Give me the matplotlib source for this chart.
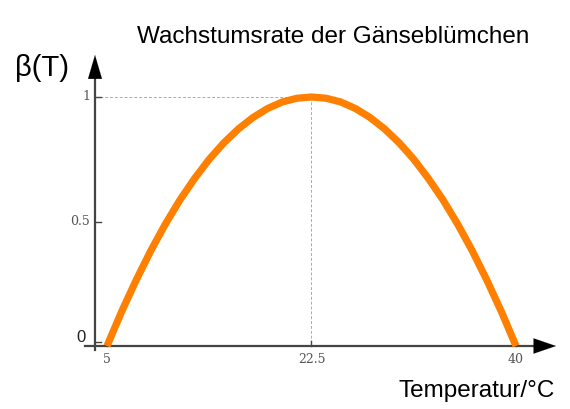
import matplotlib
matplotlib.use("Agg")
import matplotlib.pyplot as plt

# Wachstumsrate der Gaensebluemchen
temp = [5, 6.25, 7.5, 8.75, 10, 11.25, 12.5, 13.75, 15, 16.25, 17.5, 18.75, 20, 21.25,
        22.5, 23.75, 25, 26.25, 27.5, 28.75, 30, 31.25, 32.5, 33.75, 35, 36.25, 37.5, 38.75, 40]
beta = [0.0, 0.138, 0.265, 0.383, 0.490, 0.587, 0.673, 0.750, 0.816, 0.872, 0.918, 0.954,
        0.980, 0.995, 1.0, 0.995, 0.980, 0.954, 0.918, 0.872, 0.816, 0.750, 0.673, 0.587,
        0.490, 0.383, 0.265, 0.138, 0.0]
xticks = [5, 22.5, 40]
xlabels = ["5", "22.5", "40"]
yticks = [0.5, 1]
ylabels = ["0.5", "1"]
peak_t, peak_b = 22.5, 1.0

W, H = 570, 409
fig = plt.figure(figsize=(W / 100, H / 100), dpi=100)

# pixel -> data: x=5 bei 107px, x=40 bei 516px; y=0 bei 346px, y=1 bei 97px
sx = (516 - 107) / 35.0
sy = (346 - 97) / 1.0
L, R, T, B = 60, 570, 40, 370
ax = fig.add_axes([L / W, (H - B) / H, (R - L) / W, (B - T) / H])
ax.set_xlim(5 - (107 - L) / sx, 5 + (R - 107) / sx)
ax.set_ylim(-(B - 346) / sy, (346 - T) / sy)
ax.axis("off")

def px2x(p):
    return 5 + (p - 107) / sx

def px2y(p):
    return (346 - p) / sy

ax_col = "#444444"
yx = px2x(95)

# Hilfslinien
ax.plot([yx, peak_t], [peak_b, peak_b], ls=(0, (3, 2)), color="#aaaaaa", lw=0.7, zorder=1)
ax.plot([peak_t, peak_t], [peak_b, 0], ls=(0, (3, 2)), color="#aaaaaa", lw=0.7, zorder=1)

# Achsen mit Pfeilen
ax.plot([px2x(85), px2x(536)], [0, 0], color=ax_col, lw=1.6, zorder=2)
ax.plot([yx, yx], [px2y(350), px2y(78)], color=ax_col, lw=1.6, zorder=2)
ax.annotate("", xy=(px2x(556), 0), xytext=(px2x(534), 0),
            arrowprops=dict(arrowstyle="-|>,head_length=1.6,head_width=0.55", color="black", lw=0.1,
                            shrinkA=0, shrinkB=0), zorder=3)
ax.annotate("", xy=(yx, px2y(55)), xytext=(yx, px2y(80)),
            arrowprops=dict(arrowstyle="-|>,head_length=1.7,head_width=0.5", color="black", lw=0.1,
                            shrinkA=0, shrinkB=0), zorder=3)

# Ticks
for t, lab in zip(xticks, xlabels):
    ax.plot([t, t], [0, px2y(341)], color=ax_col, lw=1.0, zorder=2)
    ax.text(t, px2y(353), lab, ha="center", va="top", family="DejaVu Serif",
            fontsize=9, color="#555555")
for v, lab in zip(yticks, ylabels):
    ax.plot([yx, px2x(101)], [v, v], color=ax_col, lw=1.0, zorder=2)
    ax.text(px2x(90), v, lab, ha="right", va="center", family="DejaVu Serif",
            fontsize=9, color="#555555")
ax.plot([yx, px2x(101)], [px2y(342), px2y(342)], color=ax_col, lw=1.0, zorder=2)
ax.text(px2x(86), px2y(337), "0", ha="right", va="center", family="Liberation Sans",
        fontsize=12, color="#222222")

# Kurve
ax.plot(temp, beta, color="#ff8000", lw=5.2, solid_capstyle="butt", zorder=4)

fig.text(137 / W, 1 - 43 / H, "Wachstumsrate der Gänseblümchen", family="Liberation Sans",
         fontsize=17.5, ha="left", va="baseline")
fig.text(15 / W, 1 - 76 / H, "β(T)", family="Liberation Sans", fontsize=21,
         ha="left", va="baseline")
fig.text(555 / W, 1 - 397 / H, "Temperatur/°C", family="Liberation Sans", fontsize=17.5,
         ha="right", va="baseline")

fig.savefig("out.png", dpi=100)
